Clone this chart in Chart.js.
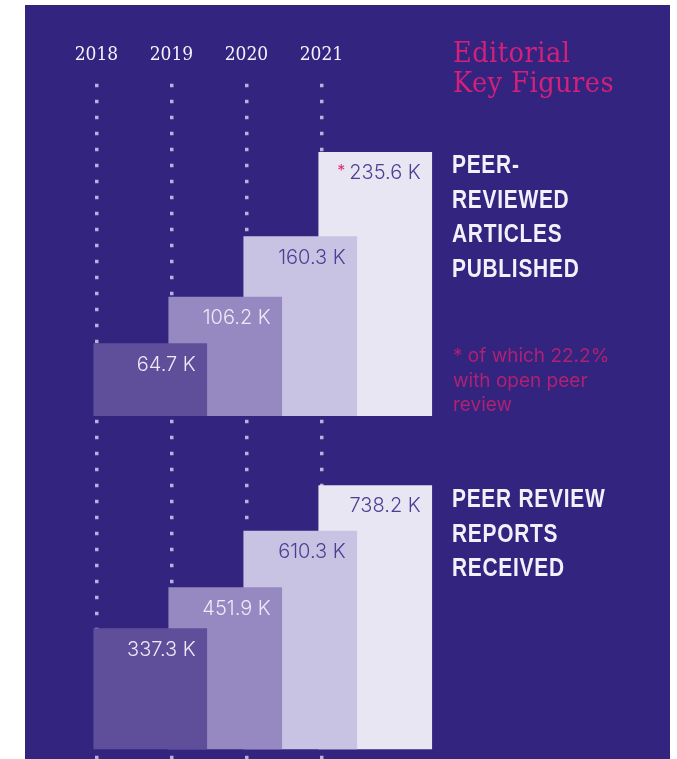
<!DOCTYPE html>
<html>
<head>
<meta charset="utf-8">
<script src="https://cdn.jsdelivr.net/npm/chart.js@4.4.0/dist/chart.umd.min.js"></script>
<style>
  html, body { margin: 0; padding: 0; background: #fff; }
  body { width: 677px; height: 759px; position: relative; overflow: hidden; }
  #panel { position: absolute; left: 25px; top: 5px; width: 645px; height: 754px; background: #32247f; }
  #chart { position: absolute; left: 0; top: 0; }
  .title { position: absolute; left: 453px; top: 38px; font-family: 'DejaVu Serif Condensed', 'DejaVu Serif', serif; font-stretch: condensed; font-size: 28.5px; line-height: 30px; letter-spacing: 0.5px; color: #d3207a; }
  .head { position: absolute; left: 452px; font-family: 'Liberation Sans', Arial, sans-serif; font-weight: bold; font-size: 25.5px; line-height: 34.5px; letter-spacing: 0.9px; color: #f2f0fa; transform: scaleX(0.82); transform-origin: 0 0; white-space: nowrap; }
  .note { position: absolute; left: 453px; top: 344px; font-family: Inter, 'Noto Sans', sans-serif; font-weight: 400; font-size: 19px; line-height: 24.5px; color: #ad2272; }
</style>
</head>
<body>
<div id="panel"><canvas id="chart" width="645" height="754"></canvas></div>
<div class="title">Editorial<br>Key Figures</div>
<div class="head" style="top:147px">PEER-<br>REVIEWED<br>ARTICLES<br>PUBLISHED</div>
<div class="note">* of which 22.2%<br>with open peer<br>review</div>
<div class="head" style="top:481px">PEER REVIEW<br>REPORTS<br>RECEIVED</div>
<script>
const years = [2018, 2019, 2020, 2021];
const articles = [64.7, 106.2, 160.3, 235.6];   // peer-reviewed articles published, K
const reports = [337.3, 451.9, 610.3, 738.2];   // peer review reports received, K
const articleNotes = ['', '', '', '*'];
const reportNotes = ['', '', '', ''];

const barColors = ['#5f4f9b', '#9688c0', '#c8c3e2', '#e8e6f3'];
const labelColors = ['#eceaf7', '#eceaf7', '#4b3f94', '#4b3f94'];

// x range in years, bars start just left of their year's dotted line
const X_MIN = 2017.047;
const X_MAX = 2025.647;
const BAR_SHIFT = 0.717;

function points(values) {
    // latest year first, so earlier bars are painted over later ones
    return years.map((year, i) => ({ x: year, y: values[i] })).reverse();
}

const barLabels = {
    id: 'barLabels',
    afterDatasetsDraw(chart) {
        const ctx = chart.ctx;
        ctx.save();
        chart.data.datasets.forEach((ds, di) => {
            const meta = chart.getDatasetMeta(di);
            meta.data.forEach((bar, j) => {
                const i = years.indexOf(ds.data[j].x);
                const text = ds.data[j].y.toFixed(1) + ' K';
                const right = bar.x + bar.width / 2 - 11;
                const y = bar.y + 21;
                ctx.font = '300 20px Inter';
                ctx.textAlign = 'right';
                ctx.textBaseline = 'middle';
                ctx.fillStyle = labelColors[i];
                ctx.fillText(text, right, y);
                if (ds.notes[i]) {
                    const w = ctx.measureText(text).width;
                    ctx.font = '16px Inter';
                    ctx.fillStyle = '#e62878';
                    ctx.fillText(ds.notes[i], right - w - 4, y - 2);
                }
            });
        });
        ctx.restore();
    }
};

const chart = new Chart(document.getElementById('chart').getContext('2d'), {
    type: 'bar',
    data: {
        datasets: [{
            label: 'Peer-reviewed articles published',
            data: points(articles),
            notes: articleNotes,
            xAxisID: 'xb',
            yAxisID: 'yA',
            backgroundColor: ctx => barColors[years.indexOf(ctx.raw.x)],
            borderWidth: 0,
            barThickness: 113
        }, {
            label: 'Peer review reports received',
            data: points(reports),
            notes: reportNotes,
            xAxisID: 'xb',
            yAxisID: 'yR',
            backgroundColor: ctx => barColors[years.indexOf(ctx.raw.x)],
            borderWidth: 0,
            barThickness: 113
        }]
    },
    options: {
        responsive: false,
        animation: false,
        layout: { padding: { top: 33, left: 0, right: 0, bottom: 0 } },
        plugins: {
            legend: { display: false },
            tooltip: { enabled: false }
        },
        scales: {
            x: {
                type: 'linear',
                position: 'top',
                offset: false,
                min: X_MIN,
                max: X_MAX,
                afterBuildTicks: scale => {
                    scale.ticks = years.map(v => ({ value: v }));
                },
                ticks: {
                    callback: v => String(v),
                    color: '#f4f2fb',
                    font: { family: "'DejaVu Serif Condensed', 'DejaVu Serif', serif", size: 19 },
                    padding: 6,
                    autoSkip: false,
                    maxRotation: 0
                },
                grid: { offset: false, color: 'rgba(198, 193, 232, 0.9)', lineWidth: 3.5, drawTicks: false },
                border: { display: false, dash: [3.5, 12.5], dashOffset: 5.25 }
            },
            xb: {
                type: 'linear',
                display: false,
                offset: false,
                stacked: true,
                grid: { offset: false },
                min: X_MIN - BAR_SHIFT,
                max: X_MAX - BAR_SHIFT
            },
            yA: {
                type: 'linear',
                display: false,
                position: 'left',
                stack: 'rows',
                stackWeight: 1,
                weight: 2,
                min: 0,
                max: 306.6
            },
            yR: {
                type: 'linear',
                display: false,
                position: 'left',
                stack: 'rows',
                stackWeight: 1,
                weight: 1,
                min: -27.9,
                max: 933
            }
        }
    },
    plugins: [barLabels]
});
</script>
</body>
</html>
